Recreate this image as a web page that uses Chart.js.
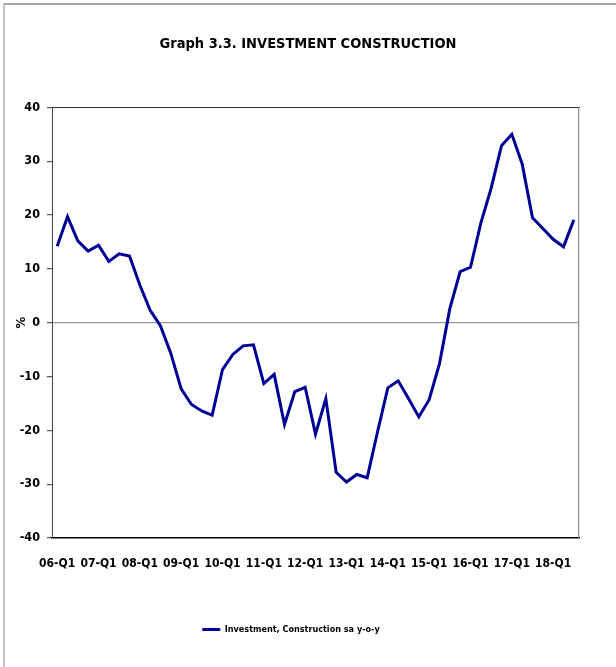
<!DOCTYPE html>
<html>
<head>
<meta charset="utf-8">
<script src="https://cdn.jsdelivr.net/npm/chart.js@4"></script>
<style>
  body { margin: 0; background: #fff; }
  #wrap { position: relative; width: 616px; height: 667px; }
  #frame {
    position: absolute; left: 3px; top: 3px; width: 640px; height: 662px;
    border-top: 2px solid #a8a8a8; border-left: 2px solid #c4c4c4; border-bottom: 1px solid #dcdcdc;
    pointer-events: none;
  }
</style>
</head>
<body>
<div id="wrap">
  <canvas id="chart" width="616" height="667"></canvas>
  <div id="frame"></div>
</div>
<script>
// quarterly labels 06-Q1 .. 18-Q3
const years = ['06', '07', '08', '09', '10', '11', '12', '13', '14', '15', '16', '17', '18'];
const quarters = [];
years.forEach(y => ['Q1', 'Q2', 'Q3', 'Q4'].forEach(q => quarters.push(y + '-' + q)));
const labels = quarters.slice(0, 51);

const construction = [
  14.2, 19.7, 15.2, 13.3, 14.4, 11.4, 12.8, 12.4,
  7.0, 2.3, -0.6, -5.7, -12.3, -15.2, -16.4, -17.2,
  -8.7, -5.9, -4.3, -4.1, -11.3, -9.6, -18.9, -12.8,
  -12.0, -20.7, -14.1, -27.8, -29.6, -28.2, -28.8, -20.3,
  -12.1, -10.8, -14.1, -17.5, -14.3, -7.6, 2.6, 9.5,
  10.3, 18.5, 25.0, 32.9, 35.0, 29.5, 19.5, 17.5,
  15.5, 14.1, 19.1
];
const yTicks = [-40, -30, -20, -10, 0, 10, 20, 30, 40];

const font = "'DejaVu Sans Condensed', 'DejaVu Sans', sans-serif";

// nudge the legend a bit left, like the original
const legendShift = {
  id: 'legendShift',
  afterLayout(chart) {
    chart.legend.left -= 17;
    chart.legend.right -= 17;
  }
};

new Chart(document.getElementById('chart'), {
  type: 'line',
  data: {
    labels: labels,
    datasets: [{
      label: 'Investment, Construction sa y-o-y',
      data: construction,
      borderColor: '#000096',
      backgroundColor: '#000096',
      borderWidth: 3,
      pointRadius: 0,
      tension: 0
    }]
  },
  options: {
    responsive: false,
    animation: false,
    layout: { padding: { left: 0, right: 0, top: 0, bottom: 23 } },
    scales: {
      x: {
        type: 'category',
        offset: true,
        grid: { display: false, drawTicks: false },
        border: { color: '#000', width: 1.5 },
        ticks: {
          autoSkip: false,
          maxRotation: 0,
          padding: 19,
          color: '#000',
          font: { family: font, size: 12, weight: 'bold' },
          callback: (v, i) => i % 4 === 0 ? labels[i] : ''
        },
        afterFit: s => { s.height = 77; }
      },
      xTop: {
        position: 'top',
        type: 'linear',
        min: 0, max: 1,
        grid: { display: false, drawTicks: false },
        ticks: { display: false },
        border: { color: '#333', width: 1 },
        afterFit: s => { s.height = 0; }
      },
      y: {
        min: -40,
        max: 40,
        afterBuildTicks: s => { s.ticks = yTicks.map(v => ({ value: v })); },
        grid: {
          color: c => c.tick && c.tick.value === 0 ? '#9a9a9a' : 'rgba(0,0,0,0)',
          lineWidth: 1.2,
          drawTicks: true,
          tickLength: 5,
          tickColor: '#555'
        },
        border: { color: '#444', width: 1 },
        ticks: {
          padding: 7,
          color: '#000',
          font: { family: font, size: 12.5, weight: 'bold' }
        },
        title: {
          display: true,
          text: '%',
          color: '#000',
          padding: { top: 14, bottom: 0 },
          font: { family: font, size: 13, weight: 'bold' }
        },
        afterFit: s => { s.width = 52; }
      },
      yRight: {
        position: 'right',
        min: 0, max: 1,
        grid: { display: false, drawTicks: false },
        ticks: { display: false },
        border: { color: '#888', width: 1.2 },
        afterFit: s => { s.width = 37; }
      }
    },
    plugins: {
      title: {
        display: true,
        text: 'Graph 3.3. INVESTMENT CONSTRUCTION',
        color: '#000',
        font: { family: font, size: 14.5, weight: 'bold' },
        padding: { top: 36, bottom: 54 }
      },
      legend: {
        position: 'bottom',
        labels: {
          usePointStyle: true,
          pointStyle: 'line',
          pointStyleWidth: 18,
          boxHeight: 12,
          padding: 10,
          color: '#000',
          font: { family: font, size: 9, weight: 'bold' }
        }
      },
      tooltip: { enabled: false }
    }
  },
  plugins: [legendShift]
});
</script>
</body>
</html>
